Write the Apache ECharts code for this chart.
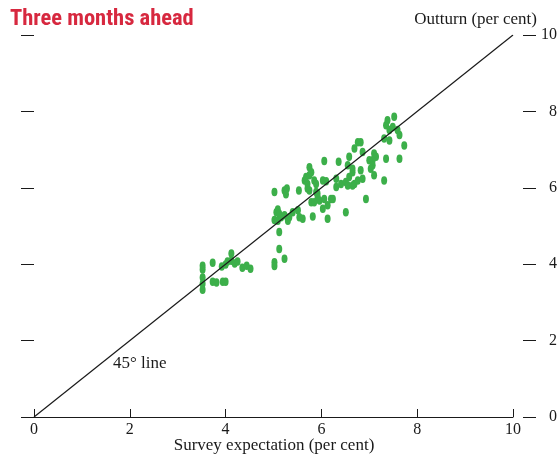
<!DOCTYPE html>
<html>
<head>
<meta charset="utf-8">
<script src="https://cdn.jsdelivr.net/npm/echarts@6/dist/echarts.min.js"></script>
<style>
  html, body { margin: 0; padding: 0; background: #fff; }
  #chart { width: 560px; height: 454px; }
</style>
</head>
<body>
<div id="chart"></div>
<script>
// Survey expectation (x) against outturn (y), per cent
const surveyExpectation = [
  3.52, 3.52, 3.52, 3.52, 3.52, 3.73, 3.73, 3.81, 3.94, 4.00,
  3.92, 4.00, 4.04, 4.12, 4.12, 4.19, 4.25, 4.35, 4.44, 4.52,
  5.02, 5.12, 5.12, 5.23, 5.02, 5.02, 5.23, 5.26, 5.28, 5.09,
  5.06, 5.12, 5.02, 5.09, 5.16, 5.23, 5.30, 5.33, 5.40, 5.51,
  5.53, 5.54, 5.61, 5.65, 5.71, 5.71, 5.75, 5.79, 5.82, 5.85,
  5.89, 5.79, 5.89, 5.92, 5.96, 6.03, 6.10, 6.13, 6.13, 6.20,
  6.06, 6.36, 6.69, 6.58, 5.75, 5.68, 6.03, 6.31, 6.41, 6.31,
  6.51, 6.58, 6.65, 6.69, 6.55, 5.75, 5.92, 5.85, 6.06, 6.24,
  6.51, 7.35, 7.38, 7.52, 7.42, 7.49, 7.59, 7.31, 7.42, 7.63,
  7.73, 7.63, 7.35, 7.31, 6.76, 6.82, 6.86, 7.10, 7.14, 7.07,
  7.00, 7.07, 7.03, 6.82, 6.65, 6.76, 6.55, 6.86, 6.65, 7.10,
  6.93
];
const outturn = [
  3.96, 3.86, 3.65, 3.49, 3.33, 4.04, 3.54, 3.52, 3.54, 3.54,
  3.94, 3.99, 4.07, 4.28, 4.09, 4.02, 4.07, 3.91, 3.96, 3.88,
  5.89, 4.84, 4.40, 4.14, 4.05, 3.95, 5.93, 5.83, 5.98, 5.43,
  5.36, 5.32, 5.16, 5.14, 5.23, 5.28, 5.14, 5.23, 5.36, 5.41,
  5.93, 5.23, 5.19, 6.19, 6.10, 5.98, 6.33, 6.41, 5.25, 6.19,
  6.10, 5.62, 5.89, 5.76, 5.67, 5.45, 6.17, 5.54, 5.19, 5.71,
  6.70, 6.68, 7.03, 6.81, 6.54, 6.28, 6.19, 6.24, 6.10, 6.02,
  6.15, 6.28, 6.41, 6.10, 6.59, 5.93, 5.85, 5.62, 5.71, 5.71,
  5.36, 7.64, 7.77, 7.86, 7.51, 7.59, 7.51, 7.29, 7.24, 7.38,
  7.11, 6.76, 6.76, 6.19, 7.19, 7.19, 6.94, 6.90, 6.81, 6.72,
  6.72, 6.59, 6.50, 6.46, 6.50, 6.19, 6.06, 6.24, 6.06, 6.33,
  5.71
];
// Reference 45-degree line end points
const diagonalX = [0, 10];
const diagonalY = [0, 10];
const axisTicks = [0, 2, 4, 6, 8, 10];

const points = surveyExpectation.map((x, i) => [x, outturn[i]]);
const diagonal = diagonalX.map((x, i) => [x, diagonalY[i]]);

const serif = "'Liberation Serif', 'DejaVu Serif', serif";
const ink = '#1a1a1a';

const chart = echarts.init(document.getElementById('chart'), null, { renderer: 'canvas' });
chart.setOption({
  animation: false,
  backgroundColor: '#ffffff',
  grid: { left: 34, right: 46, top: 35, bottom: 37, containLabel: false },
  xAxis: {
    type: 'value', min: 0, max: 10, interval: 2,
    axisLine: { show: true, lineStyle: { color: ink, width: 1 } },
    axisTick: { show: true, inside: true, length: 8, lineStyle: { color: ink } },
    axisLabel: { color: ink, fontFamily: serif, fontSize: 16, margin: 5,
      formatter: v => axisTicks.includes(v) ? String(v) : '' },
    splitLine: { show: false }
  },
  yAxis: [
    {
      type: 'value', min: 0, max: 10, interval: 2, position: 'left', offset: 10,
      axisLine: { show: false },
      axisTick: { show: true, length: 13, lineStyle: { color: ink } },
      axisLabel: { show: false },
      splitLine: { show: false }
    },
    {
      type: 'value', min: 0, max: 10, interval: 2, position: 'right', offset: 10,
      axisLine: { show: false },
      axisTick: { show: true, length: 13, lineStyle: { color: ink } },
      axisLabel: { color: ink, fontFamily: serif, fontSize: 16, margin: 34, align: 'right',
        formatter: v => axisTicks.includes(v) ? String(v) : '' },
      splitLine: { show: false }
    }
  ],
  series: [
    {
      type: 'scatter',
      data: points,
      symbol: 'circle',
      symbolSize: [6, 8.5],
      itemStyle: { color: '#3caf4a', opacity: 1 },
      z: 2
    },
    {
      type: 'line',
      data: diagonal,
      showSymbol: false,
      symbol: 'none',
      lineStyle: { color: ink, width: 1.2 },
      z: 3,
      silent: true
    }
  ],
  graphic: [
    {
      type: 'text', left: 10, top: 8, z: 10,
      style: { text: 'Three months ahead', fill: '#d7283f',
        font: "bold 22.5px 'Liberation Sans Narrow', 'Roboto Condensed', Lato, sans-serif" }
    },
    {
      type: 'text', x: 537, y: 20, z: 10,
      style: { text: 'Outturn (per cent)', fill: ink, font: '17px ' + serif,
        textAlign: 'right', textVerticalAlign: 'middle' }
    },
    {
      type: 'text', x: 274, y: 446, z: 10,
      style: { text: 'Survey expectation (per cent)', fill: ink, font: '17px ' + serif,
        textAlign: 'center', textVerticalAlign: 'middle' }
    },
    {
      type: 'text', x: 113, y: 364, z: 10,
      style: { text: '45° line', fill: ink, font: '17px ' + serif,
        textAlign: 'left', textVerticalAlign: 'middle' }
    }
  ]
});
</script>
</body>
</html>
